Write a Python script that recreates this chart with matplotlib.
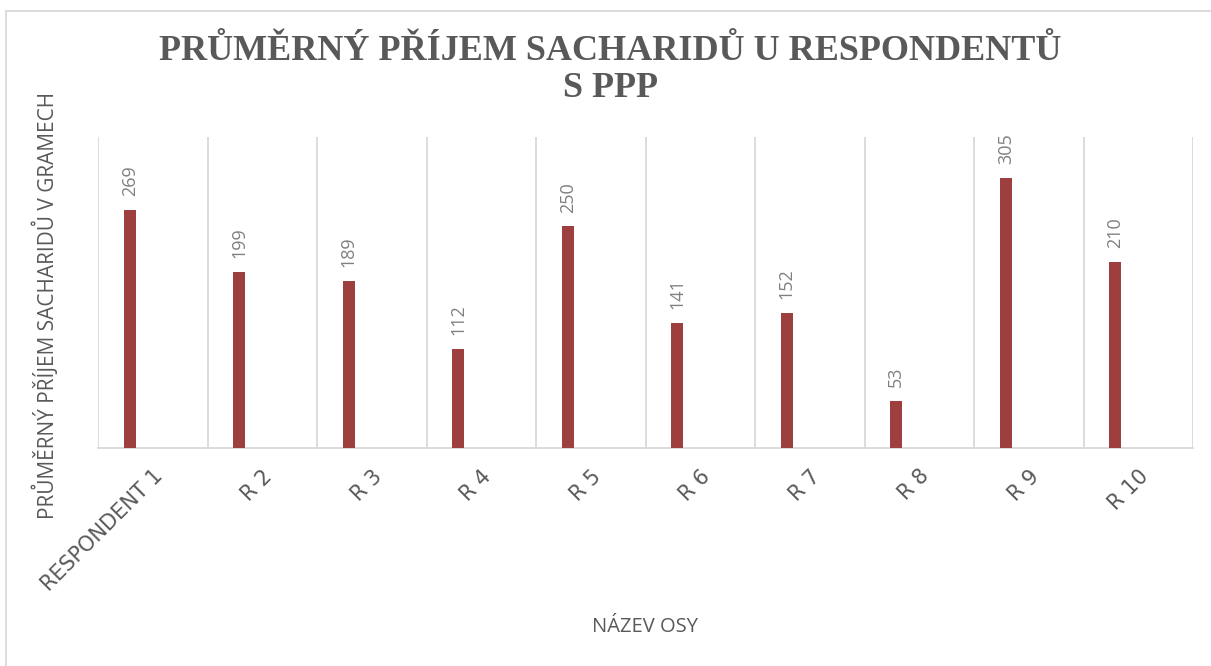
import matplotlib
matplotlib.use('Agg')
import numpy as np
import matplotlib.pyplot as plt
from matplotlib.lines import Line2D

# data
categories = ["RESPONDENT 1", "R 2", "R 3", "R 4", "R 5",
              "R 6", "R 7", "R 8", "R 9", "R 10"]
values = [269, 199, 189, 112, 250, 141, 152, 53, 305, 210]

title = "PRŮMĚRNÝ PŘÍJEM SACHARIDŮ U RESPONDENTŮ\nS PPP"
ylabel = "PRŮMĚRNÝ PŘÍJEM SACHARIDŮ V GRAMECH"
xlabel = "NÁZEV OSY"

bar_color = "#9E3F3F"
text_gray = "#595959"
grid_gray = "#D9D9D9"

fig = plt.figure(figsize=(12.11, 6.66), dpi=100)
ax = fig.add_axes([98 / 1211, 1 - 448 / 666, (1193 - 98) / 1211, (448 - 137) / 666])

x = np.arange(len(categories))
bx = x - 0.21
ax.bar(bx, values, width=0.11, color=bar_color, zorder=3)

for xi, v in zip(bx, values):
    ax.annotate(str(v), (xi, v), xytext=(0, 10), textcoords="offset points",
                rotation=90, ha="center", va="bottom", fontsize=13,
                color="#808080", family="Open Sans")

ax.set_xlim(-0.5, len(categories) - 0.5)
ax.set_ylim(0, 351)
ax.set_yticks([])
ax.set_xticks(x)
ax.set_xticklabels(categories, rotation=45, ha="right", rotation_mode="anchor",
                   fontsize=15, color=text_gray, family="DejaVu Sans")
ax.tick_params(axis="x", length=0, pad=13)
ax.set_xticks(np.arange(-0.5, len(categories)), minor=True)
ax.tick_params(axis="x", which="minor", length=0)
ax.grid(True, which="minor", axis="x", color=grid_gray, linewidth=1.3, zorder=0)

for s in ["top", "left", "right"]:
    ax.spines[s].set_visible(False)
ax.spines["bottom"].set_color(grid_gray)
ax.spines["bottom"].set_linewidth(1.3)

fig.text(0.0375, 1 - 305 / 666, ylabel, rotation=90, ha="center", va="center",
         fontsize=15, color=text_gray, family="Open Sans")
fig.text(645 / 1211, 1 - 627 / 666, xlabel, ha="center", va="center",
         fontsize=14.5, color=text_gray, family="Open Sans")
fig.text(610 / 1211, 1 - 70 / 666, title, ha="center", va="center",
         fontsize=26, fontweight="bold", color=text_gray,
         family="Liberation Serif", linespacing=1.15)

# outer frame (top and left only)
fig.add_artist(Line2D([6 / 1211, 1], [1 - 11 / 666, 1 - 11 / 666],
                      transform=fig.transFigure, color=grid_gray, linewidth=1.3))
fig.add_artist(Line2D([6 / 1211, 6 / 1211], [0, 1 - 11 / 666],
                      transform=fig.transFigure, color=grid_gray, linewidth=1.3))

fig.savefig("out.png", dpi=100)
